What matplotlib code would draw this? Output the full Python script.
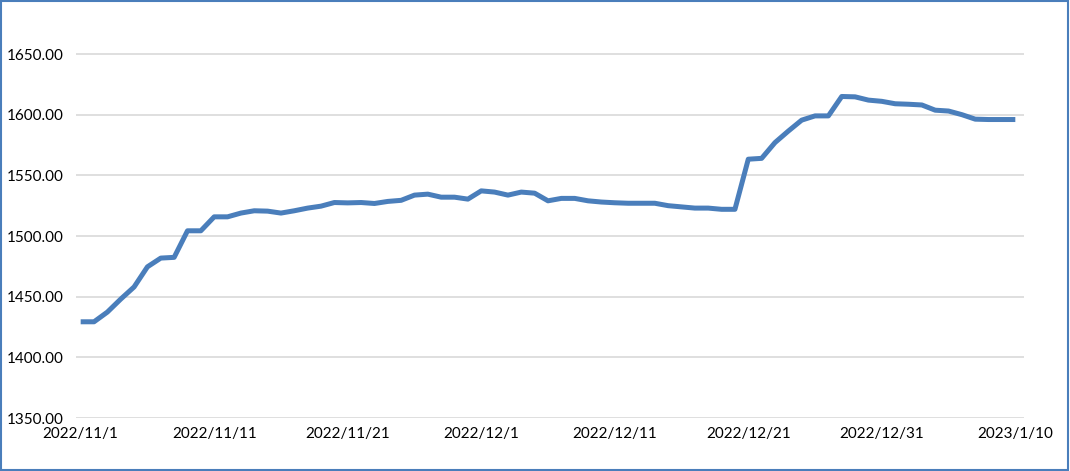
import numpy as np
import pandas as pd
import matplotlib
matplotlib.use("Agg")
import matplotlib.pyplot as plt
from matplotlib.patches import Rectangle

# daily price, 2022/11/1 .. 2023/1/10
start = "2022-11-01"
values = [
    1429.3, 1429.3, 1437.3, 1448.0, 1458.0, 1474.6, 1481.8, 1482.4, 1504.3, 1504.3,
    1515.8, 1515.8, 1518.9, 1520.8, 1520.5, 1518.9, 1520.8, 1523.0, 1524.6, 1527.6,
    1527.3, 1527.6, 1526.8, 1528.5, 1529.4, 1533.7, 1534.5, 1532.0, 1532.0, 1530.4,
    1537.2, 1536.2, 1533.7, 1536.2, 1535.3, 1529.0, 1531.0, 1531.0, 1529.0, 1528.0,
    1527.4, 1527.0, 1527.0, 1527.0, 1525.0, 1524.0, 1523.0, 1523.0, 1522.0, 1522.0,
    1563.3, 1564.0, 1577.0, 1586.5, 1595.5, 1599.0, 1599.0, 1615.0, 1614.7, 1612.0,
    1611.0, 1609.0, 1608.6, 1608.0, 1603.7, 1603.0, 1600.0, 1596.3, 1596.0, 1596.0,
    1596.0,
]
dates = pd.date_range(start, periods=len(values), freq="D")
yticks = [1350, 1400, 1450, 1500, 1550, 1600, 1650]

plt.rcParams['font.family'] = ['Lato', 'DejaVu Sans']

fig = plt.figure(figsize=(10.7, 4.71), dpi=100)
ax = fig.add_axes([76 / 1070, 1 - 418 / 471, (1024 - 76) / 1070, (418 - 10) / 471])

x = np.arange(len(values))
ax.plot(x, values, color='#4a7ebb', lw=3.6, solid_joinstyle='round', solid_capstyle='butt', zorder=3)

ax.set_ylim(1350, 1350 + 408 / 1.2133)
ax.set_xlim(-0.35, len(values) - 0.35)
ax.set_yticks(yticks)
ax.set_yticklabels(['%.2f' % v for v in yticks])
xt = x[::10]
ax.set_xticks(xt)
ax.set_xticklabels(['%d/%d/%d' % (d.year, d.month, d.day) for d in dates[::10]])

ax.grid(axis='y', color='#d9d9d9', lw=1.2)
ax.set_axisbelow(True)
for s in ax.spines.values():
    s.set_visible(False)
ax.tick_params(axis='both', length=0, labelsize=11, colors='#000000')
ax.tick_params(axis='y', pad=9)
ax.tick_params(axis='x', pad=6.5)

# chart area border
fig.patches.append(Rectangle((0.001, 0.002), 0.997, 0.996, transform=fig.transFigure,
                             fill=False, edgecolor='#4a7ebb', lw=1.5))

fig.savefig('out.png', dpi=100)
